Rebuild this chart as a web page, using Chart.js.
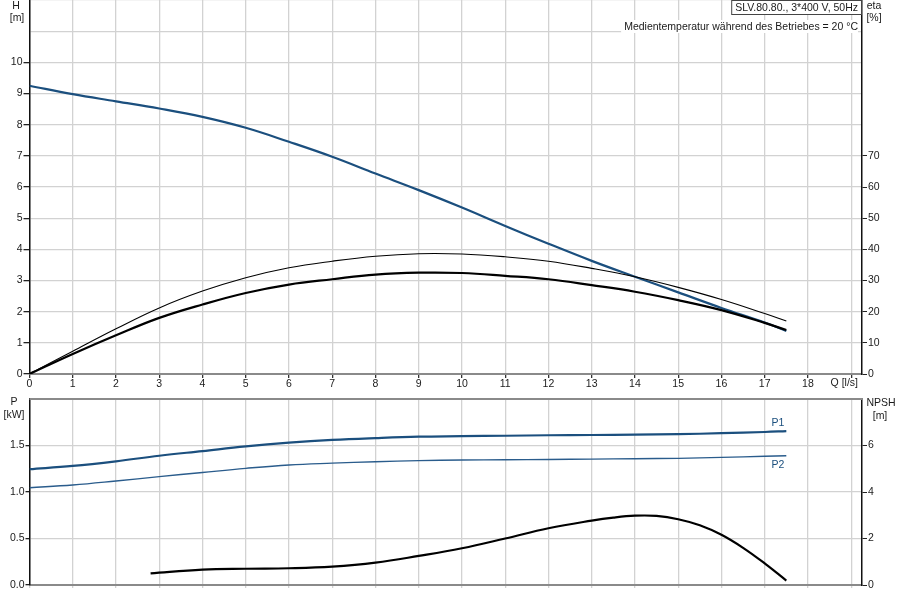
<!DOCTYPE html>
<html>
<head>
<meta charset="utf-8">
<script src="https://cdn.jsdelivr.net/npm/chart.js@4/dist/chart.umd.min.js"></script>
<style>
  html,body{margin:0;padding:0;background:#fff;}
  #wrap{position:relative;width:900px;height:600px;overflow:hidden;}
  canvas{position:absolute;left:0;}
  #c1{top:0;}
  #c2{top:390px;}
</style>
</head>
<body>
<div id="wrap">
<canvas id="c1" width="900" height="400"></canvas>
<canvas id="c2" width="900" height="210"></canvas>
</div>
<script>
// ---- data ----
const Q        = [0, 1, 2, 3, 4, 5, 6, 7, 8, 9, 10, 11, 12, 13, 14, 15, 16, 17, 17.5];
const H        = [9.25, 8.98, 8.75, 8.52, 8.25, 7.90, 7.45, 6.97, 6.43, 5.90, 5.34, 4.75, 4.18, 3.63, 3.12, 2.62, 2.12, 1.65, 1.38];
const etaPump  = [0, 7.3, 14.5, 21.2, 26.6, 30.9, 34.1, 36.2, 37.8, 38.6, 38.5, 37.6, 36.2, 33.9, 31.2, 27.8, 23.9, 19.4, 17.0];
const etaTotal = [0, 6.4, 12.4, 18.0, 22.3, 26.0, 28.7, 30.4, 31.9, 32.5, 32.4, 31.5, 30.4, 28.5, 26.4, 23.7, 20.5, 16.4, 14.1];
const P1       = [1.245, 1.28, 1.33, 1.39, 1.44, 1.49, 1.53, 1.56, 1.58, 1.595, 1.60, 1.605, 1.61, 1.613, 1.617, 1.622, 1.632, 1.645, 1.655];
const P2       = [1.046, 1.075, 1.118, 1.165, 1.21, 1.254, 1.29, 1.31, 1.326, 1.337, 1.344, 1.347, 1.35, 1.354, 1.358, 1.362, 1.372, 1.384, 1.39];
const Qnpsh    = [2.8, 4, 5, 6, 7, 8, 9, 10, 11, 12, 13, 13.5, 14, 14.5, 15, 15.5, 16, 16.5, 17, 17.5];
const NPSH     = [0.50, 0.66, 0.70, 0.72, 0.79, 0.96, 1.25, 1.58, 2.00, 2.44, 2.77, 2.90, 2.98, 2.97, 2.83, 2.57, 2.16, 1.60, 0.93, 0.19];
const xTicks   = [0, 1, 2, 3, 4, 5, 6, 7, 8, 9, 10, 11, 12, 13, 14, 15, 16, 17, 18, 19];
const hTicks   = [0, 1, 2, 3, 4, 5, 6, 7, 8, 9, 10, 11, 12];
const etaTicks = [0, 10, 20, 30, 40, 50, 60, 70, 80, 90, 100, 110, 120];
const pTicks   = [0, 0.5, 1.0, 1.5, 2.0];
const npshTicks= [0, 2, 4, 6, 8];
const title1 = 'SLV.80.80., 3*400 V, 50Hz';
const title2 = 'Medientemperatur während des Betriebes = 20 °C';

const FONT = "'Liberation Sans', Arial, sans-serif";
const FS = 10.5;
const TXT = '#1a1a1a';
const GRID = '#d2d2d2';
const BLUE = '#1b4f7e';
Chart.defaults.font.family = FONT;
Chart.defaults.font.size = FS;
Chart.defaults.color = TXT;

const pts = (xs, ys) => xs.map((x, i) => ({x: x, y: ys[i]}));
const setTicks = arr => scale => { scale.ticks = arr.map(v => ({value: v})); };
const fixSize = (prop, val) => scale => {
  scale[prop] = val;
  scale.paddingTop = 0; scale.paddingBottom = 0; scale.paddingLeft = 0; scale.paddingRight = 0;
};
const lineDs = (data, color, width, axis) => ({
  data: data, yAxisID: axis, borderColor: color, borderWidth: width,
  pointRadius: 0, fill: false, cubicInterpolationMode: 'default', tension: 0.4
});

// ---- top chart ----
const textPlugin1 = {
  id: 'text1',
  afterDraw(chart) {
    const ctx = chart.ctx;
    ctx.save();
    ctx.font = FS + 'px ' + FONT;
    ctx.fillStyle = TXT;
    ctx.textBaseline = 'middle';
    ctx.textAlign = 'center';
    ctx.fillText('H', 16, 6);
    ctx.fillText('[m]', 17, 18);
    ctx.fillText('eta', 874, 6);
    ctx.fillText('[%]', 874, 18);
    ctx.textAlign = 'right';
    ctx.fillText('Q [l/s]', 858, 383);
    // title box
    const w1 = ctx.measureText(title1).width;
    ctx.fillStyle = '#fff';
    ctx.fillRect(861 - w1 - 7, 0, w1 + 7, 15);
    ctx.strokeStyle = '#444';
    ctx.lineWidth = 1;
    ctx.strokeRect(861.5 - w1 - 7, 0.5, w1 + 7, 14);
    ctx.fillStyle = TXT;
    ctx.fillText(title1, 858, 8);
    const w2 = ctx.measureText(title2).width;
    ctx.fillStyle = '#fff';
    ctx.fillRect(858 - w2 - 3, 20, w2 + 3, 13);
    ctx.fillStyle = TXT;
    ctx.fillText(title2, 858, 27);
    ctx.restore();
  }
};

new Chart(document.getElementById('c1'), {
  type: 'line',
  data: {
    datasets: [
      lineDs(pts(Q, etaPump), '#000', 1.1, 'y1'),
      lineDs(pts(Q, etaTotal), '#000', 2.2, 'y1'),
      lineDs(pts(Q, H), BLUE, 2.2, 'y')
    ]
  },
  options: {
    responsive: false, animation: false,
    layout: {padding: 0},
    plugins: {legend: {display: false}, tooltip: {enabled: false}},
    scales: {
      x: {
        type: 'linear', min: 0, max: 19.25,
        afterBuildTicks: setTicks(xTicks),
        afterFit: fixSize('height', 26),
        ticks: {padding: 0, maxRotation: 0, autoSkip: false, callback: v => v <= 18 ? String(v) : ''},
        grid: {color: GRID, lineWidth: 1.3, tickLength: 4, tickColor: '#333'},
        border: {color: '#8a8a8a', width: 2}
      },
      y: {
        type: 'linear', position: 'left', min: 0, max: 12,
        afterBuildTicks: setTicks(hTicks),
        afterFit: fixSize('width', 29.5),
        ticks: {padding: 1, autoSkip: false, callback: v => v <= 10 ? String(v) : ''},
        grid: {color: GRID, lineWidth: 1.3, tickLength: 6,
               tickColor: c => (c.tick && c.tick.value <= 10) ? '#222' : 'rgba(0,0,0,0)'},
        border: {color: '#111', width: 1.5}
      },
      y1: {
        type: 'linear', position: 'right', min: 0, max: 120,
        afterBuildTicks: setTicks(etaTicks),
        afterFit: fixSize('width', 38),
        ticks: {padding: 1, autoSkip: false, callback: v => v <= 70 ? String(v) : ''},
        grid: {drawOnChartArea: false, tickLength: 5,
               tickColor: c => (c.tick && c.tick.value <= 70) ? '#222' : 'rgba(0,0,0,0)'},
        border: {color: '#111', width: 1.5}
      }
    }
  },
  plugins: [textPlugin1]
});

// ---- bottom chart ----
const textPlugin2 = {
  id: 'text2',
  afterDraw(chart) {
    const ctx = chart.ctx;
    const a = chart.chartArea;
    const xs = chart.scales.x, ys = chart.scales.y;
    ctx.save();
    ctx.strokeStyle = '#8a8a8a';
    ctx.lineWidth = 2;
    ctx.beginPath(); ctx.moveTo(a.left, a.top); ctx.lineTo(a.right, a.top); ctx.stroke();
    ctx.font = FS + 'px ' + FONT;
    ctx.fillStyle = TXT;
    ctx.textBaseline = 'middle';
    ctx.textAlign = 'center';
    ctx.fillText('P', 14, 12);
    ctx.fillText('[kW]', 14, 25);
    ctx.fillText('NPSH', 881, 13);
    ctx.fillText('[m]', 880, 26);
    ctx.fillStyle = BLUE;
    ctx.textAlign = 'right';
    const xl = xs.getPixelForValue(Q[Q.length - 1]);
    ctx.fillText('P1', xl - 2, ys.getPixelForValue(P1[P1.length - 1]) - 8);
    ctx.fillText('P2', xl - 2, ys.getPixelForValue(P2[P2.length - 1]) + 9);
    ctx.restore();
  }
};

new Chart(document.getElementById('c2'), {
  type: 'line',
  data: {
    datasets: [
      lineDs(pts(Q, P1), BLUE, 2.2, 'y'),
      lineDs(pts(Q, P2), '#2a5c8c', 1.4, 'y'),
      lineDs(pts(Qnpsh, NPSH), '#000', 2.2, 'y1')
    ]
  },
  options: {
    responsive: false, animation: false,
    layout: {padding: {top: 9, left: 0, right: 0, bottom: 0}},
    plugins: {legend: {display: false}, tooltip: {enabled: false}},
    scales: {
      x: {
        type: 'linear', min: 0, max: 19.25,
        afterBuildTicks: setTicks(xTicks),
        afterFit: fixSize('height', 15),
        ticks: {display: true, padding: 0, callback: () => ''},
        grid: {color: GRID, lineWidth: 1.3, tickLength: 3, tickColor: GRID},
        border: {color: '#8a8a8a', width: 2}
      },
      y: {
        type: 'linear', position: 'left', min: 0, max: 2,
        afterBuildTicks: setTicks(pTicks),
        afterFit: fixSize('width', 29.5),
        ticks: {padding: 1, autoSkip: false, callback: v => v < 2 ? v.toFixed(1) : ''},
        grid: {color: GRID, lineWidth: 1.3, tickLength: 4,
               tickColor: c => (c.tick && c.tick.value < 2) ? '#222' : 'rgba(0,0,0,0)'},
        border: {color: '#111', width: 1.5}
      },
      y1: {
        type: 'linear', position: 'right', min: 0, max: 8,
        afterBuildTicks: setTicks(npshTicks),
        afterFit: fixSize('width', 38),
        ticks: {padding: 1, autoSkip: false, callback: v => v < 8 ? String(v) : ''},
        grid: {drawOnChartArea: false, tickLength: 5,
               tickColor: c => (c.tick && c.tick.value < 8) ? '#222' : 'rgba(0,0,0,0)'},
        border: {color: '#111', width: 1.5}
      }
    }
  },
  plugins: [textPlugin2]
});
</script>
</body>
</html>
